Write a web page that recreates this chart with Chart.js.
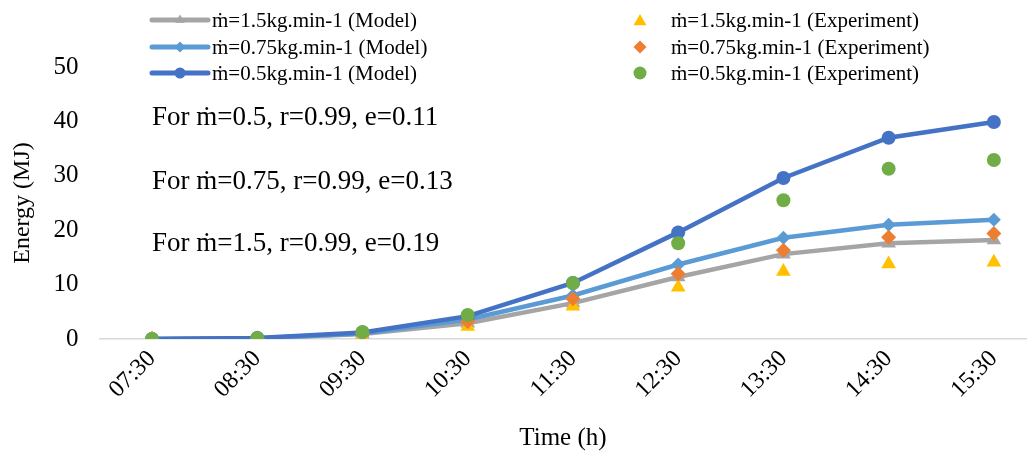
<!DOCTYPE html>
<html>
<head>
<meta charset="utf-8">
<script src="https://cdn.jsdelivr.net/npm/chart.js@4.4.1/dist/chart.umd.min.js"></script>
<style>
  html, body { margin: 0; padding: 0; background: #fff; }
  #wrap { width: 1035px; height: 454px; position: relative; }
</style>
</head>
<body>
<div id="wrap"><canvas id="energyChart" width="1035" height="454"></canvas></div>
<script>
const times = ['07:30', '08:30', '09:30', '10:30', '11:30', '12:30', '13:30', '14:30', '15:30'];

// Model curves (MJ)
const model15 = [0, 0.1, 0.9, 2.9, 6.6, 11.4, 15.6, 17.6, 18.2];
const model075 = [0, 0.15, 1.0, 3.6, 8.0, 13.7, 18.6, 21.0, 21.9];
const model05 = [0, 0.2, 1.2, 4.2, 10.3, 19.6, 29.6, 37.0, 39.9];

// Experimental points (MJ)
const exp15 = [0, 0, 0.5, 2.3, 6.0, 9.5, 12.4, 13.8, 14.1];
const exp075 = [0, 0.1, 0.9, 3.2, 7.4, 12.0, 16.3, 18.7, 19.4];
const exp05 = [0, 0.2, 1.3, 4.4, 10.3, 17.6, 25.5, 31.3, 32.9];

const yTicks = [0, 10, 20, 30, 40, 50];

const notes = [
  { text: 'For ṁ=0.5, r=0.99, e=0.11', y: 40.7 },
  { text: 'For ṁ=0.75, r=0.99, e=0.13', y: 28.8 },
  { text: 'For ṁ=1.5, r=0.99, e=0.19', y: 17.5 }
];

const FONT = "'Liberation Serif', 'Times New Roman', serif";
const colors = {
  gray: '#A5A5A5', lightBlue: '#5B9BD5', blue: '#4472C4',
  yellow: '#FFC000', orange: '#ED7D31', green: '#70AD47'
};

const toXY = (arr) => arr.map((v, i) => ({ x: i, y: v }));

const series = [
  { label: 'ṁ=1.5kg.min-1 (Model)', data: model15, color: colors.gray, style: 'triangle', line: true, r: 8.5, order: 6 },
  { label: 'ṁ=0.75kg.min-1 (Model)', data: model075, color: colors.lightBlue, style: 'rectRot', line: true, r: 7, order: 5 },
  { label: 'ṁ=0.5kg.min-1 (Model)', data: model05, color: colors.blue, style: 'circle', line: true, r: 7, order: 4 },
  { label: 'ṁ=1.5kg.min-1 (Experiment)', data: exp15, color: colors.yellow, style: 'triangle', line: false, r: 8.5, order: 3 },
  { label: 'ṁ=0.75kg.min-1 (Experiment)', data: exp075, color: colors.orange, style: 'rectRot', line: false, r: 7.5, order: 2 },
  { label: 'ṁ=0.5kg.min-1 (Experiment)', data: exp05, color: colors.green, style: 'circle', line: false, r: 7, order: 1 }
];

function drawMarker(ctx, style, x, y, r, color) {
  ctx.save();
  ctx.fillStyle = color;
  ctx.beginPath();
  if (style === 'circle') {
    ctx.arc(x, y, r, 0, Math.PI * 2);
  } else if (style === 'rectRot') {
    ctx.moveTo(x, y - r); ctx.lineTo(x + r, y); ctx.lineTo(x, y + r); ctx.lineTo(x - r, y);
  } else {
    ctx.moveTo(x, y - r);
    ctx.lineTo(x + r * 0.866, y + r / 2);
    ctx.lineTo(x - r * 0.866, y + r / 2);
  }
  ctx.closePath();
  ctx.fill();
  ctx.restore();
}

// legend in two fixed columns, plus the fit notes
const overlayPlugin = {
  id: 'overlay',
  afterDraw(chart) {
    const ctx = chart.ctx;
    ctx.save();
    ctx.font = `21px ${FONT}`;
    ctx.fillStyle = '#000';
    ctx.textBaseline = 'middle';
    ctx.textAlign = 'left';
    const rows = [20, 47, 73];
    series.forEach((s, i) => {
      const y = rows[i % 3];
      if (s.line) {
        ctx.strokeStyle = s.color;
        ctx.lineWidth = 5;
        ctx.lineCap = 'round';
        ctx.beginPath(); ctx.moveTo(152, y); ctx.lineTo(208, y); ctx.stroke();
        drawMarker(ctx, s.style, 180, y, 5.5, s.color);
        ctx.fillText(s.label, 212, y + 1);
      } else {
        drawMarker(ctx, s.style, 640, y + (s.style === 'triangle' ? 1.5 : 0), s.style === 'triangle' ? 7.5 : 6.5, s.color);
        ctx.fillText(s.label, 671, y + 1);
      }
    });

    const xs = chart.scales.x, ys = chart.scales.y;
    ctx.font = `27px ${FONT}`;
    notes.forEach(n => ctx.fillText(n.text, xs.getPixelForValue(0), ys.getPixelForValue(n.y)));
    ctx.restore();
  }
};

new Chart(document.getElementById('energyChart').getContext('2d'), {
  type: 'line',
  data: {
    datasets: series.map(s => ({
      label: s.label,
      data: toXY(s.data),
      borderColor: s.color,
      backgroundColor: s.color,
      borderWidth: 4.5,
      showLine: s.line,
      pointStyle: s.style,
      pointRadius: s.r,
      pointBorderWidth: 0,
      pointBackgroundColor: s.color,
      order: s.order,
      tension: 0
    }))
  },
  options: {
    responsive: false,
    animation: false,
    events: [],
    layout: { padding: { top: 67, right: 0, bottom: 0, left: 0 } },
    plugins: { legend: { display: false }, tooltip: { enabled: false } },
    scales: {
      x: {
        type: 'linear',
        min: -0.5,
        max: 8.31,
        afterFit: (scale) => { scale.height = 115; },
        grid: { display: false, drawTicks: false },
        border: { display: true, color: '#D9D9D9', width: 1.5 },
        ticks: {
          stepSize: 1,
          includeBounds: false,
          autoSkip: false,
          maxRotation: 45,
          minRotation: 45,
          padding: 6,
          color: '#000',
          font: { family: FONT, size: 24 },
          callback: (v) => Number.isInteger(v) && times[v] ? times[v] : ''
        },
        title: { display: true, text: 'Time (h)', color: '#000', font: { family: FONT, size: 25 }, padding: { top: 0, bottom: 1 } }
      },
      y: {
        min: 0,
        max: 50,
        afterFit: (scale) => { scale.width = 99.4; },
        afterBuildTicks: (scale) => { scale.ticks = yTicks.map(v => ({ value: v })); },
        grid: { display: false, drawTicks: false },
        border: { display: false },
        ticks: { padding: 21, color: '#000', font: { family: FONT, size: 25 } },
        title: { display: true, text: 'Energy (MJ)', color: '#000', font: { family: FONT, size: 24 }, padding: { top: 8, bottom: 0 } }
      }
    }
  },
  plugins: [overlayPlugin]
});
</script>
</body>
</html>
